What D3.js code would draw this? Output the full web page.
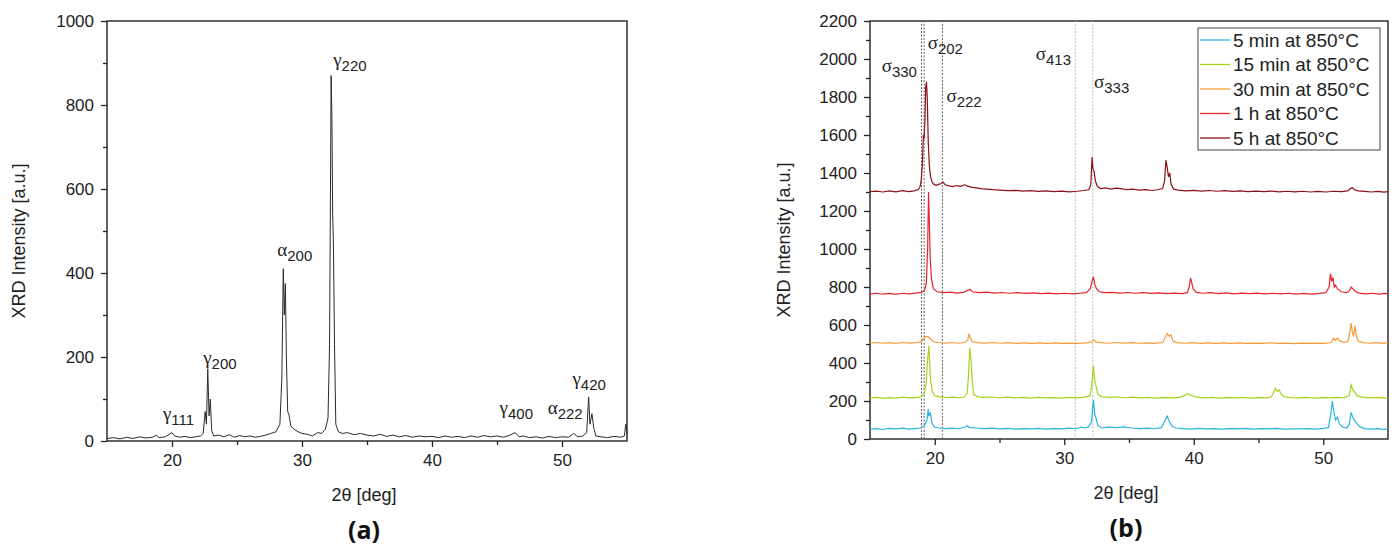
<!DOCTYPE html>
<html>
<head>
<meta charset="utf-8">
<script src="https://cdn.jsdelivr.net/npm/d3@7"></script>
<style>
  body { margin: 0; background: #fff; }
  svg { display: block; font-family: "Liberation Sans", Arial, sans-serif; }
  .domain { display: none; }
</style>
</head>
<body>
<div id="chart"></div>
<script>
// ---- data ----
const xTicks = [20, 30, 40, 50];
const yTicksA = [0, 200, 400, 600, 800, 1000];
const yTicksB = d3.range(0, 2201, 200);

// panel (a): single scan, [2theta, intensity]
const scanA = [
  [15.0,6],[15.5,8],[16.0,5],[16.5,9],[17.0,6],[17.5,10],[18.0,7],[18.5,9],[18.8,14],[19.0,8],[19.5,10],[19.8,16],[20.0,20],[20.2,12],[20.6,9],[21.0,11],[21.4,8],[21.8,10],[22.2,12],[22.4,18],[22.55,70],[22.65,40],[22.75,172],[22.85,60],[22.95,100],[23.05,25],[23.2,12],[23.6,14],[24.0,10],[24.4,15],[24.8,9],[25.2,13],[25.6,10],[26.0,12],[26.4,9],[26.8,11],[27.2,14],[27.6,18],[28.0,22],[28.3,40],[28.45,150],[28.56,410],[28.64,300],[28.72,375],[28.8,200],[28.9,70],[29.0,62],[29.15,35],[29.4,28],[29.7,22],[30.0,18],[30.4,16],[30.8,12],[31.2,20],[31.5,18],[31.8,28],[32.0,55],[32.12,230],[32.18,540],[32.24,870],[32.3,775],[32.36,540],[32.42,465],[32.5,230],[32.6,40],[32.8,22],[33.1,18],[33.5,20],[34.0,15],[34.5,18],[35.0,14],[35.5,12],[36.0,16],[36.5,11],[37.0,14],[37.5,10],[38.0,13],[38.5,9],[39.0,12],[39.5,10],[40.0,11],[40.5,8],[41.0,12],[41.5,9],[42.0,11],[42.5,8],[43.0,12],[43.5,9],[44.0,13],[44.5,10],[45.0,12],[45.5,9],[46.0,14],[46.4,20],[46.7,10],[47.0,12],[47.5,8],[48.0,10],[48.5,7],[49.0,11],[49.5,8],[50.0,10],[50.5,9],[50.9,18],[51.2,10],[51.6,12],[51.9,20],[52.05,105],[52.15,40],[52.3,65],[52.45,30],[52.6,12],[53.0,10],[53.5,8],[54.0,11],[54.5,9],[54.8,12],[54.9,40],[55.0,15]
];

// panel (b): series names and colours
const seriesNames = ["5 min at 850°C", "15 min at 850°C", "30 min at 850°C", "1 h at 850°C", "5 h at 850°C"];
const seriesColors = ["#29b4e2", "#a6d41e", "#f59c3a", "#e5232d", "#8a1218"];

const scan5min = [
  [15,52],[15.5,55],[16,50],[16.5,56],[17,53],[17.5,57],[18,52],[18.5,55],[18.9,58],[19.2,70],[19.4,100],[19.5,158],[19.55,120],[19.65,140],[19.8,80],[20.0,62],[20.3,58],[20.8,55],[21.3,57],[21.8,54],[22.3,62],[22.5,70],[22.7,60],[23.2,58],[23.8,55],[24.4,57],[25,53],[25.6,56],[26.2,52],[26.8,55],[27.4,53],[28,56],[28.6,52],[29.2,55],[29.8,53],[30.4,57],[30.9,54],[31.3,62],[31.6,58],[31.9,65],[32.1,90],[32.25,205],[32.35,130],[32.45,110],[32.6,70],[32.9,58],[33.4,62],[34.0,60],[34.6,64],[35.2,58],[35.8,55],[36.4,57],[37.0,54],[37.5,60],[37.8,100],[37.95,120],[38.1,95],[38.3,70],[38.6,58],[39.2,55],[39.8,52],[40.4,56],[41,53],[41.6,55],[42.2,52],[42.8,55],[43.4,53],[44,56],[44.6,52],[45.2,55],[45.8,53],[46.4,56],[47,52],[47.6,54],[48.2,53],[48.8,55],[49.4,52],[50.0,56],[50.4,60],[50.6,140],[50.7,200],[50.8,150],[50.95,100],[51.1,115],[51.25,80],[51.5,62],[51.8,58],[52.0,75],[52.15,140],[52.25,120],[52.4,100],[52.55,85],[52.8,65],[53.2,55],[53.7,52],[54.2,55],[54.7,51],[55,53]
];
const scan15min = [
  [15,216],[15.5,219],[16,214],[16.5,218],[17,215],[17.5,220],[18,216],[18.5,218],[18.9,220],[19.2,240],[19.35,300],[19.45,420],[19.55,490],[19.65,330],[19.8,250],[20.0,228],[20.4,222],[20.9,218],[21.4,220],[21.9,217],[22.3,222],[22.5,240],[22.6,330],[22.7,480],[22.8,420],[22.9,300],[23.0,235],[23.3,222],[23.8,219],[24.4,221],[25.0,217],[25.6,220],[26.2,216],[26.8,219],[27.4,215],[28,219],[28.6,216],[29.2,218],[29.8,215],[30.4,219],[31.0,216],[31.6,220],[32.0,228],[32.15,300],[32.25,385],[32.35,310],[32.45,280],[32.6,235],[32.9,222],[33.5,219],[34.1,221],[34.7,217],[35.3,220],[35.9,216],[36.5,219],[37.1,215],[37.7,218],[38.3,216],[38.9,219],[39.3,228],[39.5,240],[39.8,230],[40.2,220],[40.8,216],[41.4,219],[42.0,215],[42.6,218],[43.2,216],[43.8,219],[44.4,215],[45.0,218],[45.6,216],[46.0,222],[46.2,250],[46.3,268],[46.45,250],[46.6,258],[46.75,235],[47.0,222],[47.5,218],[48.1,216],[48.7,219],[49.3,215],[49.9,218],[50.5,216],[51.1,219],[51.6,217],[52.0,228],[52.15,285],[52.3,255],[52.45,245],[52.6,228],[53.0,220],[53.6,216],[54.2,219],[54.7,215],[55,218]
];
const scan30min = [
  [15,505],[15.5,508],[16,504],[16.5,507],[17,503],[17.5,508],[18,505],[18.5,507],[18.9,510],[19.1,525],[19.3,540],[19.5,538],[19.7,525],[19.9,512],[20.3,508],[20.8,505],[21.3,508],[21.8,504],[22.3,508],[22.55,520],[22.65,555],[22.75,530],[22.9,512],[23.3,507],[23.9,505],[24.5,508],[25.1,504],[25.7,507],[26.3,503],[26.9,506],[27.5,503],[28.1,506],[28.7,503],[29.3,506],[29.9,503],[30.5,505],[31.1,503],[31.7,506],[32.1,510],[32.3,522],[32.45,510],[32.8,507],[33.4,504],[34.0,508],[34.6,505],[35.2,507],[35.8,504],[36.4,506],[37.0,503],[37.6,508],[37.8,535],[37.95,555],[38.1,540],[38.25,548],[38.4,515],[38.7,507],[39.3,504],[39.9,507],[40.5,503],[41.1,506],[41.7,503],[42.3,506],[42.9,503],[43.5,506],[44.1,503],[44.7,505],[45.3,503],[45.9,506],[46.5,503],[47.1,505],[47.7,502],[48.3,505],[48.9,503],[49.5,505],[50.1,503],[50.6,508],[50.8,530],[50.95,518],[51.1,532],[51.3,515],[51.6,510],[51.9,512],[52.05,560],[52.15,610],[52.25,560],[52.35,540],[52.45,595],[52.55,545],[52.7,515],[53.1,507],[53.6,504],[54.1,507],[54.6,503],[55,506]
];
const scan1h = [
  [15,763],[15.5,767],[16,762],[16.5,766],[17,761],[17.5,767],[18,764],[18.5,768],[18.9,770],[19.2,780],[19.35,820],[19.45,1000],[19.52,1300],[19.58,1150],[19.65,950],[19.75,840],[19.9,790],[20.2,775],[20.7,770],[21.2,773],[21.7,768],[22.2,772],[22.5,780],[22.7,788],[22.9,775],[23.4,770],[24,773],[24.6,768],[25.2,771],[25.8,767],[26.4,770],[27,766],[27.6,769],[28.2,765],[28.8,768],[29.4,764],[30.0,767],[30.6,764],[31.2,767],[31.7,770],[32.0,790],[32.15,830],[32.25,853],[32.35,815],[32.5,790],[32.7,775],[33.1,770],[33.7,772],[34.3,768],[34.9,771],[35.5,767],[36.1,770],[36.7,766],[37.3,769],[37.9,765],[38.5,768],[39.1,765],[39.5,770],[39.65,800],[39.75,848],[39.85,820],[39.95,790],[40.2,772],[40.7,767],[41.3,770],[41.9,765],[42.5,769],[43.1,764],[43.7,768],[44.3,765],[44.9,768],[45.5,764],[46.1,767],[46.7,764],[47.3,767],[47.9,763],[48.5,766],[49.1,763],[49.7,766],[50.2,770],[50.45,800],[50.55,870],[50.65,830],[50.75,850],[50.85,800],[50.95,810],[51.1,790],[51.4,775],[51.8,770],[52.0,778],[52.15,800],[52.3,790],[52.5,775],[52.8,768],[53.3,764],[53.8,767],[54.3,763],[54.8,766],[55,764]
];
const scan5h = [
  [15,1302],[15.5,1305],[16,1300],[16.5,1306],[17,1301],[17.5,1307],[18,1302],[18.4,1306],[18.7,1312],[18.85,1325],[18.95,1360],[19.05,1450],[19.12,1600],[19.18,1580],[19.24,1680],[19.3,1850],[19.36,1880],[19.42,1800],[19.5,1560],[19.58,1440],[19.68,1380],[19.8,1350],[19.95,1340],[20.1,1335],[20.3,1340],[20.5,1345],[20.65,1352],[20.8,1338],[21.1,1332],[21.4,1328],[21.7,1334],[22.0,1330],[22.3,1338],[22.5,1332],[22.8,1326],[23.2,1322],[23.6,1318],[24.0,1315],[24.5,1312],[25,1310],[25.6,1307],[26.2,1309],[26.8,1305],[27.4,1307],[28,1303],[28.6,1306],[29.2,1302],[29.8,1305],[30.4,1301],[31.0,1304],[31.5,1308],[31.9,1312],[32.05,1340],[32.15,1484],[32.22,1420],[32.3,1410],[32.4,1360],[32.55,1330],[32.8,1318],[33.2,1322],[33.6,1315],[34.0,1320],[34.4,1318],[34.8,1312],[35.3,1315],[35.8,1310],[36.3,1312],[36.8,1308],[37.2,1312],[37.6,1318],[37.75,1360],[37.85,1468],[37.95,1430],[38.05,1380],[38.15,1400],[38.25,1340],[38.45,1315],[38.8,1310],[39.4,1306],[40,1309],[40.6,1305],[41.2,1308],[41.8,1304],[42.4,1307],[43,1303],[43.6,1306],[44.2,1302],[44.8,1305],[45.4,1302],[46,1305],[46.6,1301],[47.2,1304],[47.8,1301],[48.4,1304],[49,1300],[49.6,1303],[50.2,1300],[50.8,1304],[51.4,1302],[51.9,1306],[52.1,1318],[52.25,1322],[52.4,1312],[52.7,1306],[53.2,1303],[53.7,1300],[54.2,1303],[54.7,1299],[55,1302]
];
const scansB = [scan5min, scan15min, scan30min, scan1h, scan5h];

// peak labels: [letter, index, 2theta, intensity] (text anchor point)
const labelsA = [
  ["γ", "111", 19.3, 50], ["γ", "200", 22.4, 183], ["α", "200", 28.1, 440],
  ["γ", "220", 32.4, 893], ["γ", "400", 45.2, 64], ["α", "222", 48.9, 64], ["γ", "420", 50.8, 133]
];
const labelsB = [
  ["σ", "330", 15.9, 1930], ["σ", "202", 19.45, 2055], ["σ", "222", 20.9, 1775],
  ["σ", "413", 27.8, 1995], ["σ", "333", 32.3, 1848]
];
// dotted reference lines (2theta) and their strength
const refLines = [[18.98, "#666"], [19.18, "#666"], [20.59, "#666"], [30.85, "#bbb"], [32.2, "#bbb"]];

// ---- layout ----
const width = 1397, height = 557;
const svg = d3.select("#chart").append("svg").attr("width", width).attr("height", height);

function panel(opts) {
  const { left, right, top, bottom, yMax, yTicks, yMinor } = opts;
  const x = d3.scaleLinear().domain([15, 55]).range([left, right]);
  const y = d3.scaleLinear().domain([0, yMax]).range([bottom, top]);
  const g = svg.append("g");

  // minor ticks
  g.append("g").attr("transform", `translate(0,${bottom})`)
    .call(d3.axisBottom(x).tickValues([25, 35, 45]).tickSize(4).tickFormat(""));
  g.append("g").attr("transform", `translate(${left},0)`)
    .call(d3.axisLeft(y).tickValues(yMinor).tickSize(4).tickFormat(""));
  // major ticks
  g.append("g").attr("transform", `translate(0,${bottom})`)
    .call(d3.axisBottom(x).tickValues(xTicks).tickSize(6).tickPadding(7).tickFormat(d3.format("d")));
  g.append("g").attr("transform", `translate(${left},0)`)
    .call(d3.axisLeft(y).tickValues(yTicks).tickSize(6).tickPadding(7).tickFormat(d3.format("d")));
  g.selectAll(".tick line").attr("stroke", "#222").attr("stroke-width", 1.3);
  g.selectAll(".tick text").attr("font-size", 17).attr("fill", "#222")
    .attr("font-family", "'Liberation Sans', Arial, sans-serif");

  g.append("rect").attr("x", left).attr("y", top)
    .attr("width", right - left).attr("height", bottom - top)
    .attr("fill", "none").attr("stroke", "#222").attr("stroke-width", 1.4);

  g.append("text").attr("transform", `translate(${opts.yTitleX},${(top + bottom) / 2 + 10}) rotate(-90)`)
    .attr("text-anchor", "middle").attr("font-size", 18).attr("fill", "#222")
    .text("XRD Intensity [a.u.]");
  g.append("text").attr("x", (left + right) / 2 - 3).attr("y", bottom + 60)
    .attr("text-anchor", "middle").attr("font-size", 18).attr("fill", "#222")
    .text("2θ [deg]");
  g.append("text").attr("x", (left + right) / 2 - 3).attr("y", bottom + 98)
    .attr("text-anchor", "middle").attr("font-size", 25).attr("font-weight", "bold")
    .attr("font-family", "'Open Sans', sans-serif").attr("fill", "#111")
    .text(opts.tag);
  return { x, y, g };
}

function peakLabels(p, labels, size) {
  const t = p.g.selectAll("text.peak").data(labels).join("text").attr("class", "peak")
    .attr("x", d => p.x(d[2])).attr("y", d => p.y(d[3]))
    .attr("fill", "#222");
  t.append("tspan").attr("font-size", size).attr("font-family", "'Liberation Serif', serif").text(d => d[0]);
  t.append("tspan").attr("font-size", size - 4).attr("dy", 5).text(d => d[1]);
}

const line = (p) => d3.line().x(d => p.x(d[0])).y(d => p.y(d[1]));

// panel (a)
const pa = panel({
  left: 107, right: 627, top: 21, bottom: 441, yMax: 1000,
  yTicks: yTicksA, yMinor: d3.range(100, 1000, 200), yTitleX: 25, tag: "(a)"
});
pa.g.append("path").datum(scanA).attr("d", line(pa))
  .attr("fill", "none").attr("stroke", "#2a2a2a").attr("stroke-width", 1);
peakLabels(pa, labelsA, 19);

// panel (b)
const pb = panel({
  left: 870, right: 1388, top: 21, bottom: 439, yMax: 2200,
  yTicks: yTicksB, yMinor: d3.range(100, 2200, 200), yTitleX: 790, tag: "(b)"
});
pb.g.selectAll("line.ref").data(refLines).join("line").attr("class", "ref")
  .attr("x1", d => pb.x(d[0])).attr("x2", d => pb.x(d[0]))
  .attr("y1", pb.y(0)).attr("y2", pb.y(2200))
  .attr("stroke", d => d[1]).attr("stroke-width", 1).attr("stroke-dasharray", "2,1.5");
pb.g.selectAll("path.scan").data(scansB).join("path").attr("class", "scan")
  .attr("d", line(pb)).attr("fill", "none")
  .attr("stroke", (d, i) => seriesColors[i]).attr("stroke-width", 1.2);
peakLabels(pb, labelsB, 19);

// legend
const lg = pb.g.append("g").attr("transform", "translate(1198,28)");
lg.append("rect").attr("width", 182).attr("height", 122)
  .attr("fill", "#fff").attr("stroke", "#444").attr("stroke-width", 1);
const item = lg.selectAll("g.item").data(seriesNames).join("g").attr("class", "item")
  .attr("transform", (d, i) => `translate(0,${12 + i * 24.5})`);
item.append("line").attr("x1", 2).attr("x2", 32)
  .attr("stroke", (d, i) => seriesColors[i]).attr("stroke-width", 1.3);
item.append("text").attr("x", 35).attr("dy", "0.36em")
  .attr("font-size", 19).attr("fill", "#222").text(d => d);
</script>
</body>
</html>
